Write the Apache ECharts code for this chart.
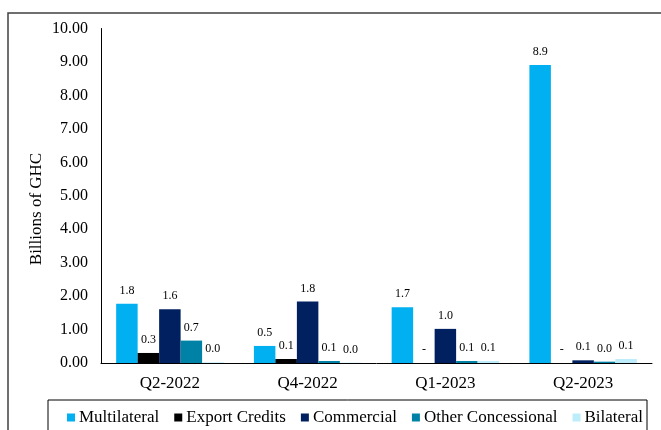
<!DOCTYPE html>
<html>
<head>
<meta charset="utf-8">
<script src="https://cdn.jsdelivr.net/npm/echarts@6/dist/echarts.min.js"></script>
<style>
  html, body { margin: 0; padding: 0; background: #fff; }
  #chart { width: 661px; height: 430px; }
</style>
</head>
<body>
<div id="chart"></div>
<script>
// Quarterly disbursements by creditor category, billions of GH₵
const quarters = ['Q2-2022', 'Q4-2022', 'Q1-2023', 'Q2-2023'];
const multilateral = [1.77, 0.51, 1.67, 8.91];
const exportCredits = [0.30, 0.12, 0, 0];
const commercial = [1.61, 1.84, 1.02, 0.08];
const otherConcessional = [0.67, 0.06, 0.06, 0.04];
const bilateral = [0.02, 0.01, 0.06, 0.12];
const yTicks = { min: 0, max: 10, interval: 1 };
const yTitle = 'Billions of GHC';

const FONT = "'Liberation Serif', 'Times New Roman', serif";

const seriesDefs = [
  { name: 'Multilateral', data: multilateral, color: '#00B0F0' },
  { name: 'Export Credits', data: exportCredits, color: '#000000' },
  { name: 'Commercial', data: commercial, color: '#002060' },
  { name: 'Other Concessional', data: otherConcessional, color: '#0082A6' },
  { name: 'Bilateral', data: bilateral, color: '#BDEDFA' }
];

const chart = echarts.init(document.getElementById('chart'), null, { renderer: 'canvas' });

chart.setOption({
  backgroundColor: '#ffffff',
  animation: false,
  textStyle: { fontFamily: FONT },
  graphic: [
    // outer frame (open on right and bottom)
    { type: 'polyline', silent: true,
      shape: { points: [[8, 440], [8, 13], [670, 13]] },
      style: { stroke: '#404040', lineWidth: 1.5, fill: null } },
    // legend frame
    { type: 'rect', silent: true, z: -1,
      shape: { x: 48, y: 400, width: 599, height: 50 },
      style: { stroke: '#000000', lineWidth: 1, fill: 'none' } },
    // value axis title
    { type: 'text', silent: true,
      x: 37, y: 209, rotation: Math.PI / 2,
      style: { text: yTitle, font: "17px " + FONT, fill: '#000',
               align: 'center', verticalAlign: 'middle' } }
  ],
  grid: { left: 101, right: 9, top: 28.5, bottom: 67, containLabel: false },
  legend: {
    data: seriesDefs.map(s => s.name),
    left: 62, top: 404,
    itemWidth: 8, itemHeight: 8, itemGap: 15,
    icon: 'rect',
    textStyle: { fontFamily: FONT, fontSize: 17, color: '#000', padding: [0, 0, 0, -1] }
  },
  xAxis: {
    type: 'category',
    data: quarters,
    axisLine: { lineStyle: { color: '#000', width: 1 } },
    axisTick: { show: false },
    axisLabel: { fontFamily: FONT, fontSize: 17, color: '#000', margin: 12 }
  },
  yAxis: {
    type: 'value',
    min: yTicks.min, max: yTicks.max, interval: yTicks.interval,
    axisLine: { show: true, lineStyle: { color: '#000', width: 1 } },
    axisTick: { show: false },
    splitLine: { show: false },
    axisLabel: {
      fontFamily: FONT, fontSize: 16, color: '#000', margin: 13,
      formatter: v => v.toFixed(2)
    }
  },
  series: seriesDefs.map(s => ({
    name: s.name,
    type: 'bar',
    data: s.data,
    barGap: '0%',
    barCategoryGap: '22%',
    itemStyle: { color: s.color },
    label: {
      show: true,
      position: 'top',
      distance: 7,
      fontFamily: FONT,
      fontSize: 12,
      color: '#000',
      formatter: p => (p.value === 0 ? '-' : p.value.toFixed(1))
    }
  }))
});
</script>
</body>
</html>
